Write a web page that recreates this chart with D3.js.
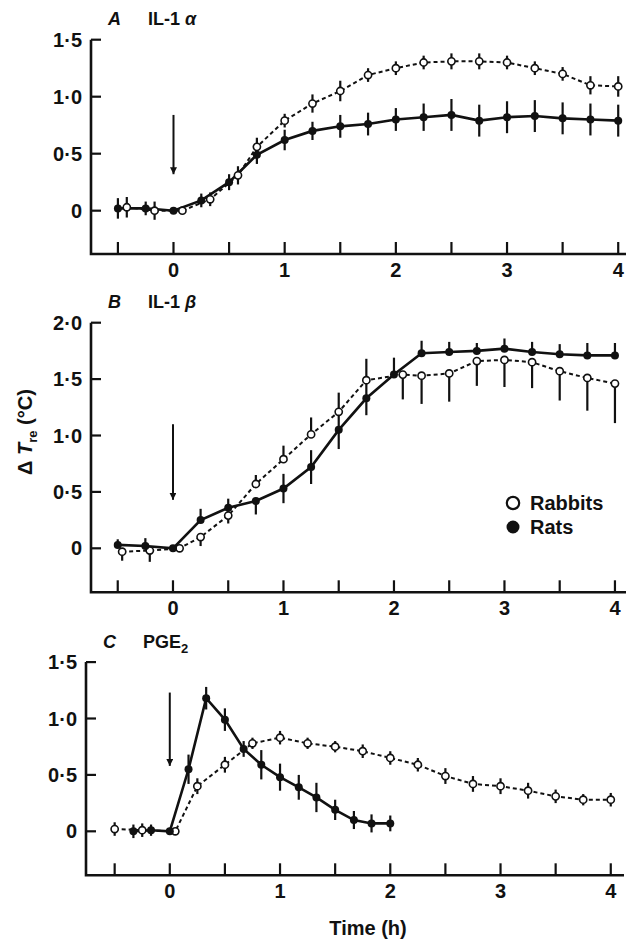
<!DOCTYPE html>
<html>
<head>
<meta charset="utf-8">
<script src="https://cdn.jsdelivr.net/npm/d3@7"></script>
<style>
  body { margin: 0; background: #fff; }
  svg text { font-family: "Liberation Sans", Arial, Helvetica, sans-serif; font-weight: bold; fill: #111; }
</style>
</head>
<body>
<svg id="chart" width="628" height="940"></svg>
<script>
// ---- data ----
// A: IL-1 alpha
const aRatT = [-0.5, -0.25, 0, 0.25, 0.5, 0.75, 1, 1.25, 1.5, 1.75, 2, 2.25, 2.5, 2.75, 3, 3.25, 3.5, 3.75, 4];
const aRatV = [0.02, 0.02, 0, 0.09, 0.25, 0.49, 0.62, 0.70, 0.74, 0.76, 0.80, 0.82, 0.84, 0.79, 0.82, 0.83, 0.81, 0.80, 0.79];
const aRatE = [0.09, 0.06, 0, 0.06, 0.07, 0.08, 0.09, 0.08, 0.10, 0.10, 0.10, 0.12, 0.14, 0.14, 0.14, 0.14, 0.14, 0.14, 0.14];
const aRabT = [-0.42, -0.17, 0.08, 0.33, 0.58, 0.75, 1, 1.25, 1.5, 1.75, 2, 2.25, 2.5, 2.75, 3, 3.25, 3.5, 3.75, 4];
const aRabV = [0.03, 0, 0, 0.10, 0.31, 0.56, 0.79, 0.94, 1.05, 1.19, 1.25, 1.30, 1.31, 1.31, 1.30, 1.25, 1.20, 1.10, 1.09];
const aRabE = [0.09, 0.08, 0, 0.06, 0.08, 0.08, 0.06, 0.08, 0.09, 0.06, 0.06, 0.06, 0.07, 0.07, 0.06, 0.06, 0.06, 0.08, 0.09];

// B: IL-1 beta (one-sided error bars)
const bRatT = [-0.5, -0.25, 0, 0.25, 0.5, 0.75, 1, 1.25, 1.5, 1.75, 2, 2.25, 2.5, 2.75, 3, 3.25, 3.5, 3.75, 4];
const bRatV = [0.03, 0.02, 0, 0.25, 0.36, 0.42, 0.53, 0.72, 1.05, 1.33, 1.54, 1.73, 1.74, 1.75, 1.77, 1.74, 1.72, 1.71, 1.71];
const bRatUp = [0.05, 0.07, 0, 0.10, 0.08, 0, 0.13, 0.15, 0.17, 0.15, 0.15, 0.11, 0.09, 0.07, 0.09, 0.09, 0.09, 0.11, 0.11];
const bRatDn = [0, 0, 0, 0, 0, 0.12, 0.13, 0.15, 0.17, 0.15, 0, 0, 0, 0, 0, 0, 0, 0, 0];
const bRabT = [-0.46, -0.21, 0.06, 0.25, 0.5, 0.75, 1, 1.25, 1.5, 1.75, 2.08, 2.25, 2.5, 2.75, 3, 3.25, 3.5, 3.75, 4];
const bRabV = [-0.03, -0.02, 0, 0.10, 0.29, 0.57, 0.79, 1.01, 1.21, 1.49, 1.54, 1.53, 1.55, 1.66, 1.67, 1.65, 1.57, 1.51, 1.46];
const bRabUp = [0, 0, 0, 0, 0.08, 0.08, 0.12, 0.15, 0.17, 0.19, 0, 0, 0, 0, 0, 0, 0, 0, 0];
const bRabDn = [0.08, 0.10, 0, 0.08, 0.07, 0, 0, 0, 0, 0, 0.22, 0.25, 0.25, 0.22, 0.24, 0.23, 0.26, 0.29, 0.35];

// C: PGE2
const cRatT = [-0.33, -0.17, 0, 0.17, 0.33, 0.5, 0.67, 0.83, 1, 1.17, 1.33, 1.5, 1.67, 1.83, 2];
const cRatV = [0, 0.01, 0, 0.55, 1.18, 0.99, 0.73, 0.59, 0.48, 0.39, 0.30, 0.19, 0.10, 0.07, 0.07];
const cRatE = [0.06, 0.05, 0, 0.13, 0.10, 0.10, 0.07, 0.13, 0.12, 0.11, 0.13, 0.09, 0.08, 0.08, 0.07];
const cRabT = [-0.5, -0.25, 0.05, 0.25, 0.5, 0.75, 1, 1.25, 1.5, 1.75, 2, 2.25, 2.5, 2.75, 3, 3.25, 3.5, 3.75, 4];
const cRabV = [0.02, 0.01, 0, 0.40, 0.59, 0.78, 0.83, 0.78, 0.75, 0.71, 0.65, 0.59, 0.49, 0.42, 0.40, 0.36, 0.31, 0.28, 0.28];
const cRabE = [0.06, 0.06, 0, 0.07, 0.07, 0.05, 0.06, 0.05, 0.05, 0.06, 0.06, 0.06, 0.07, 0.07, 0.07, 0.07, 0.06, 0.05, 0.06];

// axes
const xTicks = [-0.5, 0, 0.5, 1, 1.5, 2, 2.5, 3, 3.5, 4];
const xLabels = [0, 1, 2, 3, 4];
const yTicksA = [0, 0.5, 1.0, 1.5];
const yTicksB = [0, 0.5, 1.0, 1.5, 2.0];
const yTicksC = [0, 0.5, 1.0, 1.5];
// injection arrow [top, tip] in data units
const arrowA = [0.84, 0.32];
const arrowB = [1.10, 0.43];
const arrowC = [1.23, 0.58];

const svg = d3.select("#chart");

svg.append("defs").append("marker")
  .attr("id", "head")
  .attr("viewBox", "0 0 10 10")
  .attr("refX", 10).attr("refY", 5)
  .attr("markerWidth", 7).attr("markerHeight", 7)
  .attr("markerUnits", "userSpaceOnUse")
  .attr("orient", "auto")
  .append("path").attr("d", "M0,0 L10,5 L0,10 z").attr("fill", "#111");

function pts(t, v, up, dn) {
  return t.map((d, i) => ({ t: d, v: v[i], up: up[i], dn: dn[i] }));
}

const fmt = d => d === 0 ? "0" : d3.format(".1f")(d).replace(".", "\u00b7");

function drawPanel(p) {
  const g = svg.append("g");
  const x = d3.scaleLinear().domain(p.xDom).range(p.xRange);
  const y = d3.scaleLinear().domain(p.yDom).range(p.yRange);
  const x0 = p.xRange[0], yb = p.yRange[0];

  // axes lines
  g.append("path")
    .attr("d", `M${x0},${y(p.yDom[1])} V${yb} H${p.xRange[1]}`)
    .attr("fill", "none").attr("stroke", "#111").attr("stroke-width", 2.6);

  // y ticks (inward) and labels
  g.selectAll(".yt").data(p.yTicks).enter().append("line")
    .attr("x1", x0).attr("x2", x0 + 10)
    .attr("y1", d => y(d)).attr("y2", d => y(d))
    .attr("stroke", "#111").attr("stroke-width", 2.2);
  g.selectAll(".yl").data(p.yTicks).enter().append("text")
    .attr("x", x0 - 9).attr("y", d => y(d) + 7)
    .attr("text-anchor", "end").attr("font-size", 20)
    .text(fmt);

  // x ticks (inward) and labels
  g.selectAll(".xt").data(xTicks).enter().append("line")
    .attr("x1", d => x(d)).attr("x2", d => x(d))
    .attr("y1", yb).attr("y2", yb - 12)
    .attr("stroke", "#111").attr("stroke-width", 2.2);
  g.selectAll(".xl").data(xLabels).enter().append("text")
    .attr("x", d => x(d)).attr("y", yb + 23)
    .attr("text-anchor", "middle").attr("font-size", 20)
    .text(d => d);

  // arrow
  g.append("line")
    .attr("x1", x(0)).attr("x2", x(0))
    .attr("y1", y(p.arrow[0])).attr("y2", y(p.arrow[1]))
    .attr("stroke", "#111").attr("stroke-width", 2)
    .attr("marker-end", "url(#head)");

  const line = d3.line().x(d => x(d.t)).y(d => y(d.v));

  // rabbits dashed, rats solid
  g.append("path").datum(p.rab).attr("d", line)
    .attr("fill", "none").attr("stroke", "#111").attr("stroke-width", 2)
    .attr("stroke-dasharray", "4,3");
  g.append("path").datum(p.rat).attr("d", line)
    .attr("fill", "none").attr("stroke", "#111").attr("stroke-width", 2.6);

  [p.rab, p.rat].forEach(s => {
    g.selectAll(null).data(s.filter(d => d.up > 0 || d.dn > 0)).enter().append("line")
      .attr("x1", d => x(d.t)).attr("x2", d => x(d.t))
      .attr("y1", d => y(d.v + d.up)).attr("y2", d => y(d.v - d.dn))
      .attr("stroke", "#111").attr("stroke-width", 2.2);
  });

  g.selectAll(null).data(p.rab).enter().append("circle")
    .attr("cx", d => x(d.t)).attr("cy", d => y(d.v)).attr("r", 3.6)
    .attr("fill", "#fff").attr("stroke", "#111").attr("stroke-width", 1.6);
  g.selectAll(null).data(p.rat).enter().append("circle")
    .attr("cx", d => x(d.t)).attr("cy", d => y(d.v)).attr("r", 4)
    .attr("fill", "#111");

  // panel title
  const t = g.append("text").attr("x", p.titleX).attr("y", p.titleY).attr("font-size", 18);
  t.append("tspan").attr("font-style", "italic").text(p.letter);
  t.append("tspan").attr("x", p.titleX + 40).text(p.name);
  if (p.greek) t.append("tspan").attr("font-style", "italic").text(" " + p.greek);
  if (p.sub) t.append("tspan").attr("font-size", 13).attr("dy", 5).text(p.sub);
}

drawPanel({
  xDom: [-0.742, 4.07], xRange: [91, 626],
  yDom: [-0.38, 1.5], yRange: [254, 39.7],
  yTicks: yTicksA, arrow: arrowA,
  rat: pts(aRatT, aRatV, aRatE, aRatE), rab: pts(aRabT, aRabV, aRabE, aRabE),
  letter: "A", name: "IL-1", greek: "\u03b1", titleX: 108, titleY: 25
});

drawPanel({
  xDom: [-0.742, 4.10], xRange: [91, 626],
  yDom: [-0.39, 2.0], yRange: [592.3, 322.7],
  yTicks: yTicksB, arrow: arrowB,
  rat: pts(bRatT, bRatV, bRatUp, bRatDn), rab: pts(bRabT, bRabV, bRabUp, bRabDn),
  letter: "B", name: "IL-1", greek: "\u03b2", titleX: 108, titleY: 308
});

drawPanel({
  xDom: [-0.76, 4.12], xRange: [86, 624],
  yDom: [-0.39, 1.5], yRange: [875.3, 662.1],
  yTicks: yTicksC, arrow: arrowC,
  rat: pts(cRatT, cRatV, cRatE, cRatE), rab: pts(cRabT, cRabV, cRabE, cRabE),
  letter: "C", name: "PGE", sub: "2", titleX: 103, titleY: 648
});

// legend (panel B)
const leg = svg.append("g");
leg.append("circle").attr("cx", 513).attr("cy", 503).attr("r", 6.2)
  .attr("fill", "#fff").attr("stroke", "#111").attr("stroke-width", 2.2);
leg.append("circle").attr("cx", 513).attr("cy", 527).attr("r", 6.5).attr("fill", "#111");
leg.append("text").attr("x", 530).attr("y", 510).attr("font-size", 20).text("Rabbits");
leg.append("text").attr("x", 530).attr("y", 534).attr("font-size", 20).text("Rats");

// y axis label
const yl = svg.append("text")
  .attr("transform", "translate(32,432) rotate(-90)")
  .attr("text-anchor", "middle").attr("font-size", 20);
yl.append("tspan").text("\u0394 ");
yl.append("tspan").attr("font-style", "italic").text("T");
yl.append("tspan").attr("font-size", 13).attr("dy", 5).text("re");
yl.append("tspan").attr("dy", -5).text(" (\u00b0C)");

// x axis label
svg.append("text").attr("x", 368).attr("y", 935)
  .attr("text-anchor", "middle").attr("font-size", 20).text("Time (h)");
</script>
</body>
</html>
